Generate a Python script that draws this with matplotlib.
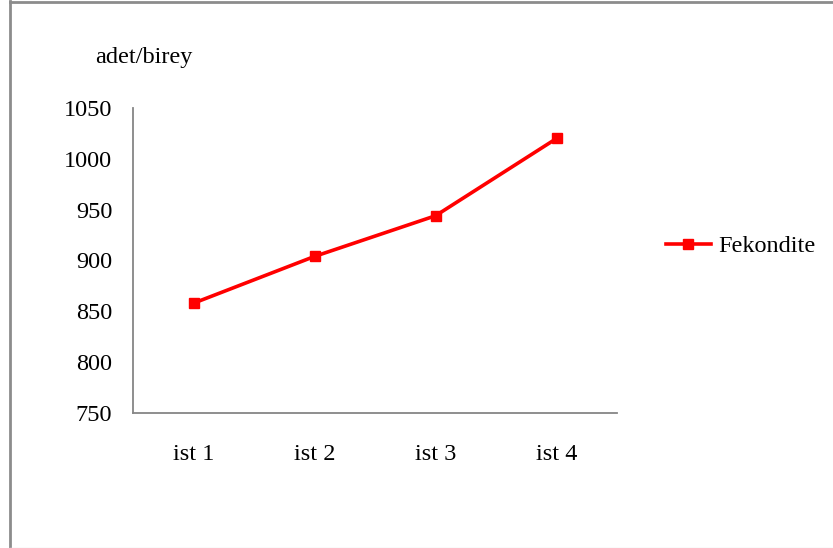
import matplotlib
matplotlib.use('Agg')
import matplotlib.pyplot as plt
from matplotlib.lines import Line2D

categories = ['ist 1', 'ist 2', 'ist 3', 'ist 4']
fekondite = [858, 904, 944, 1020]
y_ticks = [750, 800, 850, 900, 950, 1000, 1050]

plt.rcParams['font.family'] = ['Liberation Serif', 'DejaVu Serif']
FS = 17.5

fig = plt.figure(figsize=(8.33, 5.48), dpi=100)
ax = fig.add_axes([133/833, 1 - 413/548, 484/833, 305/548])

x = list(range(len(categories)))
ax.plot(x, fekondite, color='#ff0000', linewidth=2.6, marker='s', markersize=6.5,
        label='Fekondite')

ax.set_xlim(-0.5, len(categories) - 0.5)
ax.set_ylim(750, 1050)
ax.set_yticks(y_ticks)
ax.set_xticks(x)
ax.set_xticklabels(categories)
ax.tick_params(axis='y', length=0, pad=15, labelsize=FS)
ax.tick_params(axis='x', length=0, pad=22, labelsize=FS)

for s in ['top', 'right']:
    ax.spines[s].set_visible(False)
for s in ['left', 'bottom']:
    ax.spines[s].set_color('#868686')
    ax.spines[s].set_linewidth(1.3)

fig.text(95/833, 1 - 57/548, 'adet/birey', fontsize=FS, va='center', ha='left')

ax.legend(loc='center left', bbox_to_anchor=(644/833, 1 - 246/548),
          bbox_transform=fig.transFigure, frameon=False, fontsize=FS,
          handlelength=1.85, handletextpad=0.3)

# outer chart border
fig.add_artist(Line2D([10/833, 10/833], [0, 1 - 1/548], transform=fig.transFigure,
                      color='#8c8c8c', linewidth=2))
fig.add_artist(Line2D([10/833, 1], [1 - 1.5/548, 1 - 1.5/548], transform=fig.transFigure,
                      color='#8c8c8c', linewidth=2))
fig.add_artist(Line2D([10/833, 1], [0.5/548, 0.5/548], transform=fig.transFigure,
                      color='#e6e6e6', linewidth=1))

plt.savefig('out.png', dpi=100)
